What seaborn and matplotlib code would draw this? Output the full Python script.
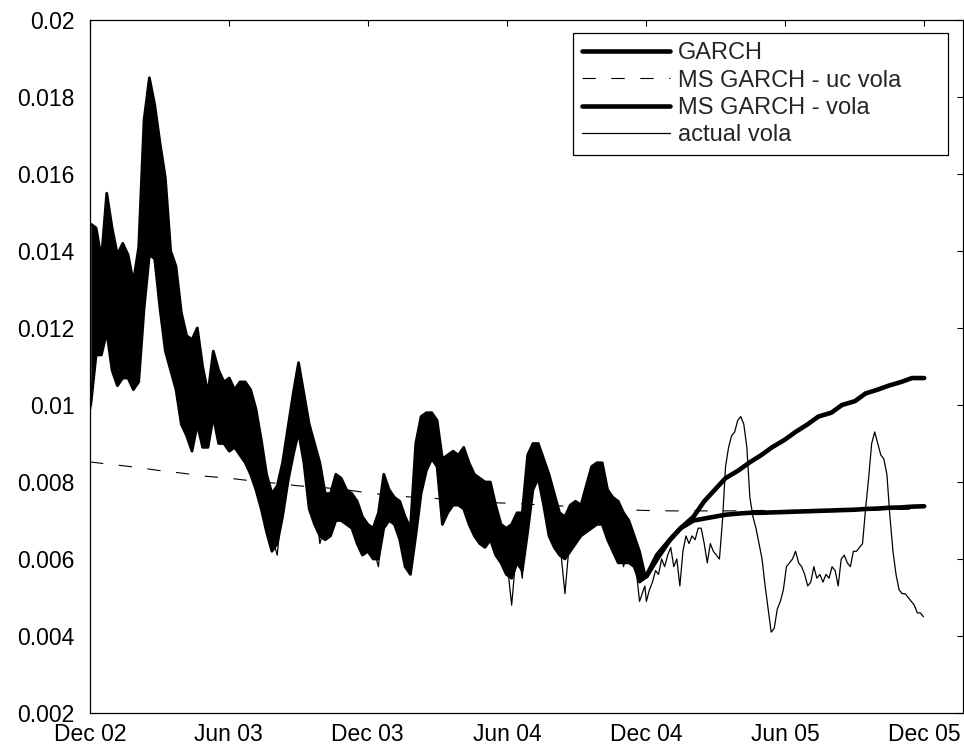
import pandas as pd
import numpy as np
import matplotlib
matplotlib.use("Agg")
import matplotlib.pyplot as plt
import matplotlib.dates as mdates
import seaborn as sns

# ------------------------------------------------------------
# data
# ------------------------------------------------------------
# in-sample period: weekly points, range of the daily conditional vola (GARCH / MS GARCH)
week_dates = pd.date_range("2002-12-02", periods=105, freq="7D")
band_top = [
    0.0147, 0.0146, 0.0138, 0.0155, 0.0146, 0.0139, 0.0142, 0.0139, 0.0132, 0.0141,
    0.0174, 0.0185, 0.0178, 0.0168, 0.0159, 0.0140, 0.0136, 0.0124, 0.0118, 0.0117,
    0.0120, 0.0110, 0.0103, 0.0114, 0.0109, 0.0106, 0.0107, 0.0104, 0.0106, 0.0106,
    0.0104, 0.0099, 0.0091, 0.0082, 0.0077, 0.0079, 0.0085, 0.0094, 0.0103, 0.0111,
    0.0103, 0.0095, 0.0090, 0.0085, 0.0077, 0.0077, 0.0082, 0.0081, 0.0078, 0.0077,
    0.0075, 0.0071, 0.0069, 0.0068, 0.0072, 0.0082, 0.0078, 0.0076, 0.0075, 0.0071,
    0.0068, 0.0090, 0.0097, 0.0098, 0.0098, 0.0096, 0.0086, 0.0087, 0.0088, 0.0087,
    0.0089, 0.0085, 0.0082, 0.0081, 0.0080, 0.0080, 0.0074, 0.0069, 0.0068, 0.0069,
    0.0072, 0.0072, 0.0087, 0.0090, 0.0090, 0.0086, 0.0082, 0.0077, 0.0072, 0.0071,
    0.0074, 0.0075, 0.0074, 0.0079, 0.0084, 0.0085, 0.0085, 0.0078, 0.0076, 0.0075,
    0.0072, 0.0070, 0.0066, 0.0062, 0.0056,
]
band_bottom = [
    0.0100, 0.0113, 0.0113, 0.0119, 0.0109, 0.0105, 0.0107, 0.0107, 0.0104, 0.0106,
    0.0125, 0.0139, 0.0138, 0.0125, 0.0114, 0.0109, 0.0104, 0.0095, 0.0092, 0.0088,
    0.0095, 0.0089, 0.0089, 0.0097, 0.0090, 0.0090, 0.0088, 0.0089, 0.0087, 0.0085,
    0.0082, 0.0078, 0.0073, 0.0067, 0.0062, 0.0064, 0.0071, 0.0080, 0.0087, 0.0093,
    0.0085, 0.0073, 0.0069, 0.0066, 0.0065, 0.0066, 0.0070, 0.0070, 0.0069, 0.0068,
    0.0064, 0.0061, 0.0062, 0.0060, 0.0060, 0.0068, 0.0070, 0.0069, 0.0065, 0.0058,
    0.0056, 0.0066, 0.0077, 0.0083, 0.0086, 0.0084, 0.0069, 0.0072, 0.0074, 0.0074,
    0.0073, 0.0069, 0.0066, 0.0064, 0.0063, 0.0065, 0.0061, 0.0059, 0.0056, 0.0055,
    0.0059, 0.0057, 0.0067, 0.0078, 0.0081, 0.0074, 0.0066, 0.0063, 0.0061, 0.0060,
    0.0062, 0.0064, 0.0066, 0.0067, 0.0068, 0.0069, 0.0069, 0.0065, 0.0062, 0.0059,
    0.0059, 0.0059, 0.0058, 0.0054, 0.0055,
]
actual_in = [
    0.0099, 0.0125, 0.0120, 0.0140, 0.0125, 0.0115, 0.0128, 0.0118, 0.0112, 0.0125,
    0.0150, 0.0165, 0.0160, 0.0140, 0.0130, 0.0120, 0.0115, 0.0105, 0.0100, 0.0095,
    0.0105, 0.0098, 0.0094, 0.0104, 0.0098, 0.0096, 0.0097, 0.0095, 0.0096, 0.0094,
    0.0091, 0.0087, 0.0080, 0.0073, 0.0066, 0.0061, 0.0076, 0.0086, 0.0094, 0.0100,
    0.0093, 0.0082, 0.0077, 0.0064, 0.0069, 0.0071, 0.0076, 0.0074, 0.0073, 0.0072,
    0.0068, 0.0065, 0.0065, 0.0063, 0.0058, 0.0075, 0.0073, 0.0072, 0.0069, 0.0063,
    0.0060, 0.0078, 0.0088, 0.0092, 0.0093, 0.0089, 0.0076, 0.0080, 0.0082, 0.0080,
    0.0082, 0.0077, 0.0073, 0.0071, 0.0070, 0.0072, 0.0067, 0.0063, 0.0061, 0.0048,
    0.0064, 0.0055, 0.0078, 0.0084, 0.0085, 0.0080, 0.0073, 0.0069, 0.0065, 0.0051,
    0.0067, 0.0069, 0.0070, 0.0073, 0.0076, 0.0078, 0.0077, 0.0071, 0.0068, 0.0066,
    0.0058, 0.0064, 0.0062, 0.0049, 0.0053,
]

# out-of-sample period: actual vola every 4 days
oos_dates = pd.date_range("2004-12-01", periods=92, freq="4D")
actual_out = [
    0.0049, 0.0052, 0.0054, 0.0057, 0.0056, 0.0060, 0.0058, 0.0061, 0.0063, 0.0058,
    0.0060, 0.0053, 0.0062, 0.0066, 0.0064, 0.0066, 0.0065, 0.0068, 0.0068, 0.0064,
    0.0059, 0.0064, 0.0062, 0.0061, 0.0060, 0.0070, 0.0084, 0.0089, 0.0092, 0.0093,
    0.0096, 0.0097, 0.0095, 0.0089, 0.0076, 0.0071, 0.0068, 0.0064, 0.0060, 0.0053,
    0.0047, 0.0041, 0.0042, 0.0047, 0.0049, 0.0052, 0.0058, 0.0059, 0.0060, 0.0062,
    0.0059, 0.0058, 0.0056, 0.0053, 0.0054, 0.0058, 0.0055, 0.0056, 0.0054, 0.0056,
    0.0055, 0.0058, 0.0057, 0.0053, 0.0060, 0.0061, 0.0059, 0.0058, 0.0062, 0.0062,
    0.0063, 0.0064, 0.0073, 0.0081, 0.0090, 0.0093, 0.0090, 0.0087, 0.0086, 0.0082,
    0.0071, 0.0062, 0.0056, 0.0052, 0.0051, 0.0051, 0.0050, 0.0049, 0.0048, 0.0046,
    0.0046, 0.0045,
]

# forecasts, twice a month
fc_dates = pd.date_range("2004-12-01", periods=25, freq="SMS")
garch_fc = [
    0.00555, 0.0061, 0.0065, 0.0068, 0.0071, 0.0075, 0.0078, 0.0081, 0.0083, 0.0085,
    0.0087, 0.0089, 0.0091, 0.0093, 0.0095, 0.0097, 0.0098, 0.0100, 0.0101, 0.0103,
    0.0104, 0.0105, 0.0106, 0.0107, 0.0107,
]
msgarch_fc = [
    0.00555, 0.0060, 0.0065, 0.0068, 0.0070, 0.00705, 0.0071, 0.00715, 0.00718, 0.0072,
    0.0072, 0.00721, 0.00722, 0.00723, 0.00724, 0.00725, 0.00726, 0.00727, 0.00728, 0.0073,
    0.00731, 0.00733, 0.00734, 0.00736, 0.00737,
]

# MS GARCH unconditional vola, monthly
uc_dates = pd.date_range("2002-12-01", periods=37, freq="MS")
msgarch_uc = [
    0.00852, 0.00845, 0.00838, 0.00830, 0.00823, 0.00815, 0.00810, 0.00803, 0.00797, 0.00790,
    0.00786, 0.00780, 0.00772, 0.00765, 0.00760, 0.00757, 0.00750, 0.00747, 0.00745, 0.00742,
    0.00739, 0.00735, 0.00732, 0.00728, 0.00726, 0.00725, 0.00725, 0.00725, 0.00725, 0.00726,
    0.00726, 0.00727, 0.00727, 0.00728, 0.00728, 0.00729, 0.00730,
]

tick_dates = ["2002-12-01", "2003-06-01", "2003-12-01", "2004-06-01",
              "2004-12-01", "2005-06-01", "2005-12-01"]
tick_labels = ["Dec 02", "Jun 03", "Dec 03", "Jun 04", "Dec 04", "Jun 05", "Dec 05"]
y_ticks = [0.002, 0.004, 0.006, 0.008, 0.01, 0.012, 0.014, 0.016, 0.018, 0.02]

# ------------------------------------------------------------
# plot
# ------------------------------------------------------------
sns.set_style("white")
plt.rcParams["font.family"] = ["Liberation Sans", "DejaVu Sans"]

fig = plt.figure(figsize=(9.64, 7.5), dpi=100)
ax = fig.add_axes([90 / 964, 37 / 750, 873 / 964, 693 / 750])

# in-sample band of conditional vola
ax.fill_between(week_dates, band_top, band_bottom, color="black", lw=0)
sns.lineplot(x=week_dates, y=band_top, ax=ax, color="black", lw=2)
sns.lineplot(x=week_dates, y=band_bottom, ax=ax, color="black", lw=2)

actual_dates = list(week_dates) + list(oos_dates)
actual_vals = actual_in + actual_out

sns.lineplot(x=fc_dates, y=garch_fc, ax=ax, color="black", lw=3.3, label="GARCH")
sns.lineplot(x=uc_dates, y=msgarch_uc, ax=ax, color="black", lw=0.8,
             linestyle=(0, (12, 14)), label="MS GARCH - uc vola")
sns.lineplot(x=fc_dates, y=msgarch_fc, ax=ax, color="black", lw=3.3,
             label="MS GARCH - vola")
sns.lineplot(x=actual_dates, y=actual_vals, ax=ax, color="black", lw=0.9,
             label="actual vola")

ax.set_xlim(pd.Timestamp("2002-12-01"), pd.Timestamp("2006-01-21"))
ax.set_ylim(0.002, 0.02)

ax.set_xticks([mdates.date2num(pd.Timestamp(d)) for d in tick_dates])
ax.set_xticklabels(tick_labels)
ax.set_yticks(y_ticks)
ax.set_yticklabels(["%g" % v for v in y_ticks])
ax.set_xlabel("")
ax.set_ylabel("")

ax.tick_params(axis="both", direction="in", length=4, width=0.8,
               top=True, right=True, labelsize=16.5, colors="black")
ax.tick_params(axis="y", pad=11)
ax.tick_params(axis="x", pad=7.5)
for s in ax.spines.values():
    s.set_visible(True)
    s.set_color("black")
    s.set_linewidth(0.9)

handles, labels = ax.get_legend_handles_labels()
leg = ax.legend(handles, labels, loc="upper left",
                bbox_to_anchor=(483 / 873, 680 / 693, 375 / 873, 0),
                mode="expand", borderaxespad=0, fontsize=17,
                handlelength=3.7, handletextpad=0.35, labelspacing=0.22,
                borderpad=0.4, fancybox=False, framealpha=1)
leg.get_frame().set_edgecolor("black")
leg.get_frame().set_linewidth(0.9)

fig.savefig("out.png", dpi=100)
